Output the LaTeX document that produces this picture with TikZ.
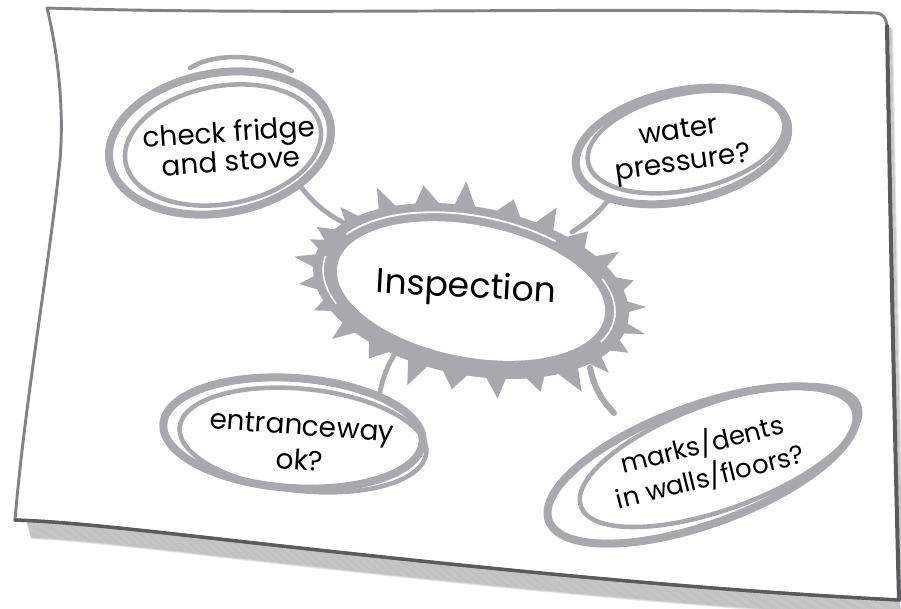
\documentclass[tikz,border=0pt]{standalone}
\usepackage{fontspec}
\setmainfont{Poppins}
\usetikzlibrary{calc}
\definecolor{ink}{HTML}{A7A9AC}
\definecolor{paperline}{HTML}{808285}
\definecolor{shadowc}{HTML}{5A5B5D}
\begin{document}
\begin{tikzpicture}[x=0.75pt,y=-0.75pt,
  ring/.style={draw=ink, line width=6pt},
  thinring/.style={draw=ink, line width=3.4pt},
  tail/.style={draw=ink, line width=3.6pt, line cap=round},
  bubbletext/.style={font=\fontsize{21}{25}\selectfont, align=center, text=black, inner sep=0pt},
  centertext/.style={font=\fontsize{26}{28}\selectfont, text=black, inner sep=0pt},
  spike/.style={fill=ink}
]
\useasboundingbox (0,0) rectangle (901,608);

% ---------- paper shadow ----------
\foreach \i in {1,...,20}{
  \draw[black, opacity=0.09, line width=1.8pt, shift={(\i*0.25,\i*0.9)}]
    (899,600) .. controls (700,590) and (500,570) .. (300,548)
              .. controls (180,535) and (80,522) .. (26,520);
}
\foreach \i in {1,...,5}{
  \draw[black, opacity=0.1, line width=1.6pt, shift={(\i*1.0,\i*0.5)}]
    (887,26) .. controls (890,200) and (894,400) .. (899,600);
}

% ---------- paper ----------
\filldraw[fill=white, draw=paperline, line width=2.2pt, line join=round]
  (47,8) .. controls (300,16) and (600,6) .. (876,13)
  .. controls (884,14) and (886,18) .. (887,26)
  .. controls (890,200) and (894,400) .. (899,600)
  .. controls (700,590) and (500,570) .. (300,548)
  .. controls (180,535) and (80,522) .. (15,520)
  .. controls (25,400) and (50,260) .. (60,160)
  .. controls (65,100) and (55,40) .. (47,8) -- cycle;
\draw[shadowc, line width=3pt, line cap=round]
  (887,26) .. controls (890,200) and (894,400) .. (899,600);
\draw[shadowc, line width=2.6pt, line cap=round]
  (899,600) .. controls (700,590) and (500,570) .. (300,548)
  .. controls (180,535) and (80,522) .. (15,520);

% ---------- tails (connectors) ----------
\coordinate (t1s) at (300,186);
\coordinate (t1e) at (346,224);
\coordinate (t2s) at (610,198);
\coordinate (t2e) at (572,232);
\coordinate (t3s) at (380,392);
\coordinate (t3e) at (396,352);
\coordinate (t4s) at (590,368);
\coordinate (t4e) at (614,413);
\draw[tail] (t1s) to[bend right=12] (t1e);
\draw[tail] (t2s) to[bend left=10] (t2e);
\draw[tail] (t3s) to[bend left=10] (t3e);
\draw[tail, line width=4.5pt] (t4s) to[bend right=15] (t4e);

% ---------- central spiky blob ----------
\begin{scope}[shift={(471,291)}, rotate=-11]
  \fill[ink] (0,0) ellipse [x radius=160, y radius=84];
  \foreach \a/\l/\w in {200/14/5, 215/16/4, 232/22/4, 248/18/5, 262/24/4, 278/15/5,
                        292/22/4, 306/16/5, 320/20/4, 335/14/5, 350/18/4, 5/20/4,
                        18/15/5, 32/18/4, 46/24/5, 60/15/4, 75/20/4, 90/16/5,
                        104/24/4, 120/15/5, 135/20/4, 150/14/4, 165/16/5, 180/20/5, 192/12/4}{
    \fill[spike] ({\a-\w}:158 and 82) -- (\a:{160+\l} and {84+\l}) -- ({\a+\w}:158 and 82) -- cycle;
  }
  \fill[white] (0,0) ellipse [x radius=136, y radius=66];
  \draw[white, line width=1.4pt] (205:147 and 75) arc [start angle=205, end angle=300, x radius=147, y radius=75];
  \draw[white, line width=1.2pt] (330:146 and 74) arc [start angle=330, end angle=380, x radius=146, y radius=74];
  \draw[white, line width=1.2pt] (150:150 and 76) arc [start angle=150, end angle=185, x radius=150, y radius=76];
\end{scope}
\node[centertext, rotate=-3] (insp) at (466,289) {Inspection};

% ---------- bubble 1 ----------
\draw[ring, rotate around={10:(220,143)}] (220,143) ellipse [x radius=112, y radius=70];
\draw[thinring, rotate around={10:(223,145)}] (223,145) ellipse [x radius=99, y radius=59];
\draw[thinring, line cap=round] (190,68) .. controls (215,52) and (262,54) .. (292,71);
\node[bubbletext, rotate=4, font=\fontsize{21}{22}\selectfont] (b1) at (230,146) {check fridge\\and stove};

% ---------- bubble 2 ----------
\draw[ring, rotate around={12:(682,146)}] (682,146) ellipse [x radius=108, y radius=55];
\draw[thinring, rotate around={12:(686,142)}] (686,142) ellipse [x radius=100, y radius=48];
\node[bubbletext, rotate=8, font=\fontsize{21}{24}\selectfont] (b2) at (681,149) {water\\pressure?};

% ---------- bubble 3 ----------
\draw[ring, rotate around={-4:(293,433)}] (293,433) ellipse [x radius=130, y radius=55];
\draw[thinring, rotate around={-6:(303,440)}] (303,440) ellipse [x radius=124, y radius=51];
\node[bubbletext, rotate=-4, font=\fontsize{21}{26}\selectfont] (b3) at (301,443) {entranceway\\ok?};

% ---------- bubble 4 ----------
\draw[ring, rotate around={20:(702,465)}] (702,465) ellipse [x radius=163, y radius=59];
\draw[thinring, rotate around={20:(720,456)}] (720,456) ellipse [x radius=148, y radius=53];
\node[bubbletext, rotate=14, font=\fontsize{19.5}{25}\selectfont] (b4) at (706,460) {marks/dents\\in walls/floors?};
\end{tikzpicture}
\end{document}
